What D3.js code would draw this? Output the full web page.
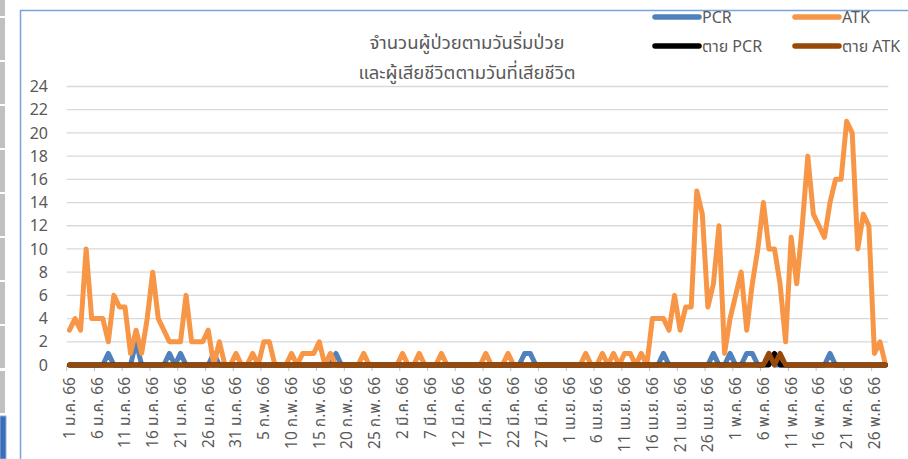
<!DOCTYPE html>
<html>
<head>
<meta charset="utf-8">
<script src="https://cdn.jsdelivr.net/npm/d3@7"></script>
<style>
  body { margin: 0; background: #fff; }
  svg { display: block; }
  text { font-family: "Noto Sans Thai", "Leelawadee UI", Tahoma, "Noto Sans", "DejaVu Sans", sans-serif; }
</style>
</head>
<body>
<div id="viz"></div>
<script>
// days from 1 ม.ค. 66 to 28 พ.ค. 66
const dayCount = 148;

const tickLabels = ["1 ม.ค. 66","6 ม.ค. 66","11 ม.ค. 66","16 ม.ค. 66","21 ม.ค. 66","26 ม.ค. 66",
  "31 ม.ค. 66","5 ก.พ. 66","10 ก.พ. 66","15 ก.พ. 66","20 ก.พ. 66","25 ก.พ. 66",
  "2 มี.ค. 66","7 มี.ค. 66","12 มี.ค. 66","17 มี.ค. 66","22 มี.ค. 66","27 มี.ค. 66",
  "1 เม.ย. 66","6 เม.ย. 66","11 เม.ย. 66","16 เม.ย. 66","21 เม.ย. 66","26 เม.ย. 66",
  "1 พ.ค. 66","6 พ.ค. 66","11 พ.ค. 66","16 พ.ค. 66","21 พ.ค. 66","26 พ.ค. 66"];

const atk = [
  3,4,3,10,4,4,4,2,6,5,
  5,1,3,1,4,8,4,3,2,2,
  2,6,2,2,2,3,0,2,0,0,
  1,0,0,1,0,2,2,0,0,0,
  1,0,1,1,1,2,0,1,0,0,
  0,0,0,1,0,0,0,0,0,0,
  1,0,0,1,0,0,0,1,0,0,
  0,0,0,0,0,1,0,0,0,1,
  0,0,0,0,0,0,0,0,0,0,
  0,0,0,1,0,0,1,0,1,0,
  1,1,0,1,0,4,4,4,3,6,
  3,5,5,15,13,5,7,12,1,4,
  6,8,3,7,10,14,10,10,7,2,
  11,7,12,18,13,12,11,14,16,16,
  21,20,10,13,12,1,2,0
];

// day index -> value, zero elsewhere
const pcrDays = [[7,1],[12,2],[18,1],[20,1],[26,1],[48,1],[82,1],[83,1],[107,1],
  [116,1],[119,1],[122,1],[123,1],[126,1],[137,1]];
const deathPcrDays = [[127,1]];
const deathAtkDays = [[126,1],[128,1]];

const yTicks = [0,2,4,6,8,10,12,14,16,18,20,22,24];

function fill(pairs) {
  const arr = new Array(dayCount).fill(0);
  pairs.forEach(([i, v]) => arr[i] = v);
  return arr;
}

const series = [
  { name: "PCR", values: fill(pcrDays), color: "#4f81bd" },
  { name: "ATK", values: atk, color: "#f79646" },
  { name: "ตาย PCR", values: fill(deathPcrDays), color: "#000000" },
  { name: "ตาย ATK", values: fill(deathAtkDays), color: "#984807" }
];

const width = 908, height = 459;
const svg = d3.select("#viz").append("svg")
  .attr("width", width).attr("height", height);

// spreadsheet strip on the left
const strip = svg.append("g");
d3.range(-1, 8).forEach(k => {
  const y0 = 17 + k * 44;
  strip.append("rect").attr("x", 0).attr("y", y0 + 1).attr("width", 5).attr("height", 42)
    .attr("fill", "#c0c0c0");
});
strip.append("rect").attr("x", 0).attr("y", 371).attr("width", 5).attr("height", 42).attr("fill", "#c0c0c0");
strip.append("rect").attr("x", 0).attr("y", 416).attr("width", 6).attr("height", 43)
  .attr("fill", "#3a6db5").attr("stroke", "#8fb0de").attr("stroke-width", 1);

// chart border
svg.append("path").attr("d", "M20.5,459 V10.5 H908")
  .attr("fill", "none").attr("stroke", "#7aa3da").attr("stroke-width", 1.5);

const x = d3.scaleBand().domain(d3.range(dayCount)).range([66.7, 888.3]);
const y = d3.scaleLinear().domain([0, 24]).range([365, 86.5]);
const cx = i => x(i) + x.bandwidth() / 2;

// grid
svg.append("g").selectAll("line").data(yTicks.filter(d => d > 0)).join("line")
  .attr("x1", 66.7).attr("x2", 888.3)
  .attr("y1", d => y(d)).attr("y2", d => y(d))
  .attr("stroke", "#d9d9d9").attr("stroke-width", 1.3);

// y labels
svg.append("g").selectAll("text").data(yTicks).join("text")
  .attr("x", 48).attr("y", d => y(d)).attr("dy", "0.35em")
  .attr("text-anchor", "end").attr("fill", "#595959").attr("font-size", 16)
  .text(d => d);

// x ticks and labels
const labelIdx = d3.range(0, dayCount, 5);
svg.append("g").selectAll("line").data(labelIdx).join("line")
  .attr("x1", i => x(i)).attr("x2", i => x(i))
  .attr("y1", 365).attr("y2", 371)
  .attr("stroke", "#bfbfbf").attr("stroke-width", 1);

svg.append("g").selectAll("text").data(labelIdx).join("text")
  .attr("transform", (i) => `translate(${cx(i)},377) rotate(-90)`)
  .attr("text-anchor", "end").attr("dy", "0.35em")
  .attr("fill", "#595959").attr("font-size", 15.5)
  .text((i, k) => tickLabels[k]);

// lines
const line = d3.line().x((d, i) => cx(i)).y(d => y(d));
svg.append("g").selectAll("path").data(series).join("path")
  .attr("d", s => line(s.values))
  .attr("fill", "none")
  .attr("stroke", s => s.color)
  .attr("stroke-width", 5)
  .attr("stroke-linejoin", "round")
  .attr("stroke-linecap", "round");

// title
const title = svg.append("text").attr("x", 467).attr("text-anchor", "middle")
  .attr("fill", "#595959").attr("font-size", 18.5);
title.append("tspan").attr("x", 467).attr("y", 49).text("จำนวนผู้ป่วยตามวันริ่มป่วย");
title.append("tspan").attr("x", 467).attr("y", 79).text("และผู้เสียชีวิตตามวันที่เสียชีวิต");

// legend
const legendPos = [[655, 17], [795, 17], [655, 46], [795, 46]];
const legend = svg.append("g").selectAll("g").data(series).join("g")
  .attr("transform", (s, k) => `translate(${legendPos[k][0]},${legendPos[k][1]})`);
legend.append("line").attr("x1", 0).attr("x2", 44)
  .attr("stroke", s => s.color).attr("stroke-width", 5.5).attr("stroke-linecap", "round");
legend.append("text").attr("x", 47).attr("dy", "0.35em")
  .attr("fill", "#595959").attr("font-size", 16)
  .text(s => s.name);
</script>
</body>
</html>
